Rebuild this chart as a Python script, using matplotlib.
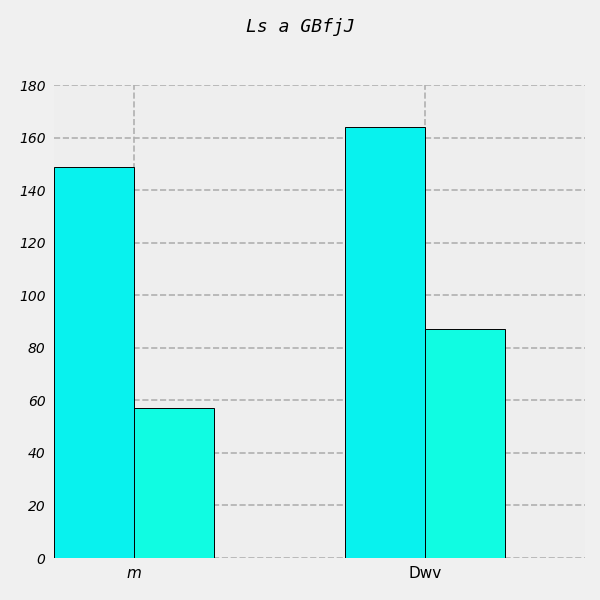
import matplotlib
matplotlib.use("Agg")
import matplotlib.pyplot as plt
import numpy as np

categories = ["m", "Dwv"]
series1 = [149, 164]
series2 = [57, 87]

fig = plt.figure(figsize=(6, 6), dpi=100, facecolor="#f0f0f0")
ax = fig.add_axes([0.09, 0.07, 0.885, 0.788])
ax.set_facecolor("#eeeeee")
x = np.arange(len(categories))
w = 0.274
ax.bar(x - w/2, series1, w, color="#08f2ee", edgecolor="black", linewidth=0.7, zorder=3)
ax.bar(x + w/2, series2, w, color="#10fce2", edgecolor="black", linewidth=0.7, zorder=3)
ax.set_xticks(x)
ax.set_xticklabels(categories, fontsize=11)
ax.get_xticklabels()[0].set_style("italic")
ax.set_xlim(-0.274, 1.548)
ax.set_ylim(0, 180)
ax.set_yticks(range(0, 181, 20))
for t in ax.get_yticklabels():
    t.set_style("italic")
    t.set_fontsize(10)
ax.grid(True, linestyle="--", color="#b0b0b0", linewidth=1.2, zorder=0)
for s in ax.spines.values():
    s.set_visible(False)
ax.tick_params(length=0, pad=6)
fig.suptitle("Ls a GBfjJ", family="DejaVu Sans Mono", style="italic", fontsize=13, y=0.97)
fig.savefig("out.png", facecolor=fig.get_facecolor())
